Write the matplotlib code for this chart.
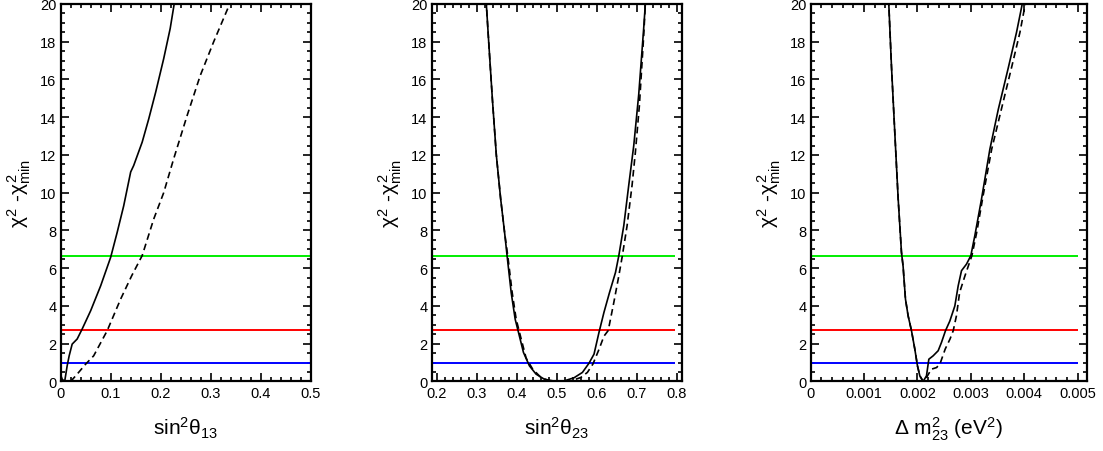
import matplotlib
matplotlib.use("Agg")
import matplotlib.pyplot as plt
from matplotlib.ticker import MultipleLocator, FuncFormatter

plt.rcParams['font.family'] = ['Liberation Sans', 'DejaVu Sans']
plt.rcParams['mathtext.fontset'] = 'custom'
plt.rcParams['mathtext.rm'] = 'Liberation Sans'
plt.rcParams['mathtext.it'] = 'Liberation Sans'
plt.rcParams['mathtext.bf'] = 'Liberation Sans:bold'

# Nivoi (1, 2.71, 6.63)
levels = [1.0, 2.71, 6.63]
level_colors = ['#0000ff', '#ff0000', '#00ee00']

# Panel 1: sin^2 theta13
t13_full_x = [0.0, 0.003, 0.008, 0.013, 0.017, 0.023, 0.033, 0.043, 0.06, 0.08, 0.1,
              0.113, 0.126, 0.14, 0.146, 0.163, 0.176, 0.19, 0.206, 0.219, 0.227, 0.232]
t13_full_y = [0.35, 0.12, 0.0, 0.83, 1.36, 1.98, 2.25, 2.78, 3.75, 5.07, 6.58,
              7.9, 9.3, 11.1, 11.44, 12.68, 13.9, 15.33, 17.1, 18.7, 20.0, 20.8]
t13_dash_x = [0.02, 0.033, 0.05, 0.066, 0.093, 0.12, 0.142, 0.163, 0.186, 0.206,
              0.226, 0.253, 0.279, 0.306, 0.338, 0.345]
t13_dash_y = [0.0, 0.39, 0.92, 1.36, 2.69, 4.37, 5.6, 6.67, 8.6, 10.0,
              11.8, 14.1, 16.2, 18.0, 20.0, 20.5]

# Panel 2: sin^2 theta23
t23_full_x = [0.322, 0.324, 0.3299, 0.339, 0.349, 0.3597, 0.3696, 0.3762, 0.3862, 0.3961,
              0.4044, 0.4168, 0.4317, 0.4483, 0.469, 0.4938, 0.5186, 0.5435, 0.5642,
              0.5807, 0.5932, 0.6056, 0.618, 0.632, 0.6469, 0.6552, 0.6676, 0.68,
              0.6925, 0.7049, 0.7173, 0.7215, 0.723]
t23_full_y = [20.8, 20.0, 18.0, 15.0, 12.0, 9.7, 7.9, 6.6, 4.7, 3.3,
              2.6, 1.54, 0.83, 0.39, 0.12, 0.02, 0.03, 0.2, 0.48,
              0.97, 1.45, 2.6, 3.66, 4.72, 5.78, 6.67, 8.26, 10.4,
              12.5, 15.2, 18.7, 20.0, 20.5]
t23_dash_x = [0.322, 0.324, 0.3299, 0.339, 0.349, 0.3597, 0.3696, 0.3779, 0.3887, 0.3986,
              0.4069, 0.4234, 0.44, 0.4607, 0.4855, 0.5103, 0.5352, 0.56, 0.5766,
              0.5906, 0.6056, 0.618, 0.6287, 0.6428, 0.6552, 0.6635, 0.6759, 0.6883,
              0.6966, 0.7065, 0.7173, 0.7215, 0.723]
t23_dash_y = [20.8, 20.0, 18.0, 15.0, 12.0, 9.7, 7.9, 6.6, 4.7, 3.3,
              2.6, 1.24, 0.65, 0.21, 0.0, 0.0, 0.03, 0.21, 0.48,
              0.93, 1.7, 2.4, 2.7, 4.2, 5.6, 6.6, 8.26, 10.4,
              12.15, 14.6, 18.3, 20.0, 20.5]

# Panel 3: Delta m^2_23
m23_full_x = [0.00145, 0.001463, 0.001513, 0.001575, 0.001638, 0.0017, 0.001731, 0.001775,
              0.001825, 0.001888, 0.00195, 0.002, 0.002044, 0.002106, 0.002169, 0.002213,
              0.002294, 0.002388, 0.00245, 0.002525, 0.002606, 0.0027, 0.002763, 0.002825,
              0.002919, 0.003, 0.003075, 0.0032, 0.003356, 0.003513, 0.0037, 0.003856,
              0.003963, 0.00399]
m23_full_y = [20.5, 20.0, 16.7, 13.2, 9.7, 6.85, 6.1, 4.37,
              3.48, 2.69, 1.72, 0.83, 0.3, 0.0, 0.3, 1.18,
              1.36, 1.63, 2.07, 2.69, 3.2, 4.0, 5.07, 5.87,
              6.22, 6.67, 7.73, 9.67, 12.3, 14.4, 16.6, 18.5,
              20.0, 20.5]
m23_dash_x = [0.00145, 0.001463, 0.001513, 0.001575, 0.001638, 0.0017, 0.001731, 0.001775,
              0.001825, 0.001888, 0.00195, 0.002, 0.002044, 0.00211, 0.002169, 0.00226,
              0.00236, 0.00243, 0.00252, 0.00261, 0.00267, 0.00273, 0.00279, 0.00289,
              0.00302, 0.00311, 0.00323, 0.00339, 0.00357, 0.00376, 0.00392, 0.00402,
              0.00404]
m23_dash_y = [20.5, 20.0, 16.7, 13.2, 9.7, 6.85, 6.1, 4.37,
              3.48, 2.69, 1.72, 0.83, 0.3, 0.0, 0.21, 0.65,
              0.74, 1.0, 1.72, 2.25, 2.69, 3.48, 4.72, 5.6,
              6.67, 7.9, 9.85, 12.3, 14.4, 16.6, 18.5, 20.0,
              20.4]

panels = [
    dict(rect=[0.0550, 0.1538, 0.2267, 0.8352], xlim=(0.0, 0.5), hl=(0.0, 0.5),
         major=0.1, minor=0.02, label=r'$\mathrm{sin}^{2}\theta_{13}$',
         full=(t13_full_x, t13_full_y), dash=(t13_dash_x, t13_dash_y)),
    dict(rect=[0.3914, 0.1538, 0.2267, 0.8352], xlim=(0.1875, 0.8125), hl=(0.1875, 0.795),
         major=0.1, minor=0.02, label=r'$\mathrm{sin}^{2}\theta_{23}$',
         full=(t23_full_x, t23_full_y), dash=(t23_dash_x, t23_dash_y)),
    dict(rect=[0.7350, 0.1538, 0.2502, 0.8352], xlim=(0.0, 0.00517), hl=(0.0, 0.005),
         major=0.001, minor=0.0002, label=r'$\Delta$ m$^{2}_{23}$ (eV$^{2}$)',
         full=(m23_full_x, m23_full_y), dash=(m23_dash_x, m23_dash_y)),
]

fig = plt.figure(figsize=(11.03, 4.52), dpi=100)

for p in panels:
    ax = fig.add_axes(p['rect'])
    for lv, c in zip(levels, level_colors):
        ax.hlines(lv, p['hl'][0], p['hl'][1], colors=c, lw=1.4)
    ax.plot(p['full'][0], p['full'][1], color='black', lw=1.2)
    ax.plot(p['dash'][0], p['dash'][1], color='black', lw=1.2, linestyle=(0, (4, 2.5)))
    ax.set_xlim(p['xlim'])
    ax.set_ylim(0, 20)
    ax.xaxis.set_major_locator(MultipleLocator(p['major']))
    ax.xaxis.set_minor_locator(MultipleLocator(p['minor']))
    ax.yaxis.set_major_locator(MultipleLocator(2))
    ax.yaxis.set_minor_locator(MultipleLocator(0.5))
    ax.xaxis.set_major_formatter(FuncFormatter(lambda v, pos: '%g' % round(v, 6)))
    ax.tick_params(which='both', direction='in', top=True, right=True, labelsize=10.5, width=1.2)
    ax.tick_params(which='major', length=6, pad=3)
    ax.tick_params(which='minor', length=3)
    for s in ax.spines.values():
        s.set_linewidth(1.6)
    ax.set_xlabel(p['label'], fontsize=15, labelpad=11)
    ax.set_ylabel(r'$\chi^{2}$ -$\chi^{2}_{\mathrm{min}}$', fontsize=15, labelpad=5)

plt.savefig("out.png", dpi=100)
